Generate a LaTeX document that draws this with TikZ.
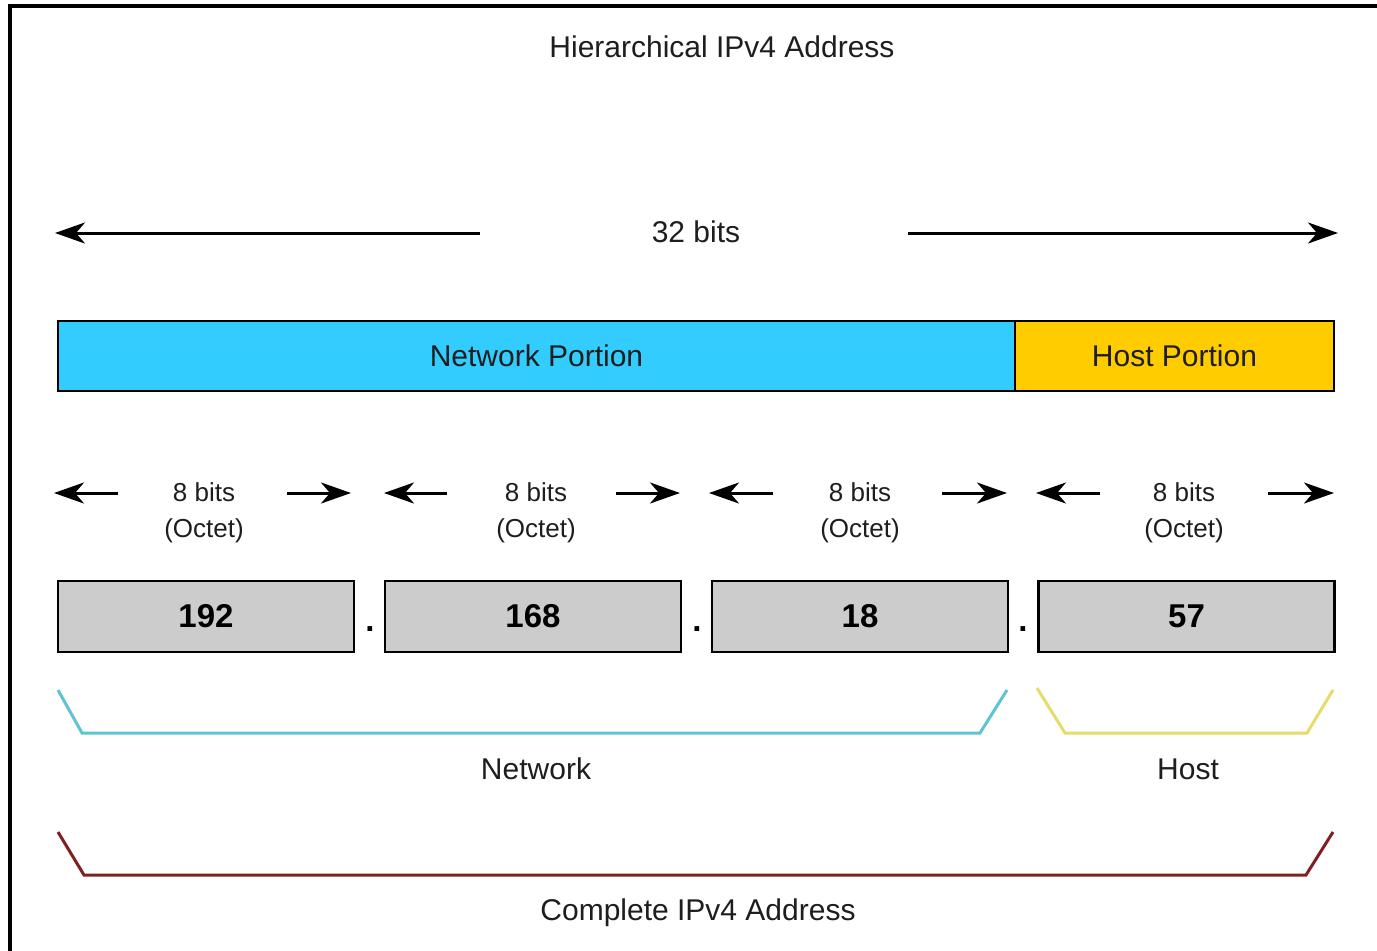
\documentclass[tikz,border=0pt]{standalone}
\usepackage{fontspec}
\setmainfont{Liberation Sans}
\usetikzlibrary{arrows.meta}
\definecolor{netblue}{HTML}{33CCFF}
\definecolor{hostyel}{HTML}{FFCC00}
\definecolor{octgray}{HTML}{CCCCCC}
\definecolor{netbr}{HTML}{5EC4D4}
\definecolor{hostbr}{HTML}{E6DC6A}
\definecolor{fullbr}{HTML}{7E2020}
\definecolor{txtc}{HTML}{1E1E1E}
\tikzset{
  txt/.style={text=txtc, inner sep=0pt, font=\fontsize{30}{36}\selectfont},
  small/.style={text=txtc, inner sep=0pt, font=\fontsize{26}{31}\selectfont},
  portion/.style={draw=black, line width=2.5pt, inner sep=0pt, minimum height=70pt, text=txtc, font=\fontsize{30}{36}\selectfont},
  octbox/.style={draw=black, line width=2.5pt, fill=octgray, inner sep=0pt, minimum width=296pt, minimum height=71pt, text=black, font=\fontsize{33}{40}\selectfont\bfseries},
  arr/.style={line width=3pt, -{Stealth[length=30pt,width=21pt,inset=9pt]}},
  brk/.style={line width=3pt, line join=miter}
}
\begin{document}
\begin{tikzpicture}[x=1pt,y=-1pt]
\useasboundingbox (0,0) rectangle (1377,951);
\fill[white] (0,0) rectangle (1377,951);
% frame
\draw[line width=3.5pt] (10,951) -- (10,6) -- (1377,6);

% title
\node[txt] (title) at (722,47) {Hierarchical IPv4 Address};

% 32 bits
\node[txt] (bits32) at (696,232) {32 bits};
\coordinate (l32a) at (480,233);
\coordinate (l32b) at (55,233);
\coordinate (r32a) at (908,233);
\coordinate (r32b) at (1338,233);
\draw[arr] (l32a) -- (l32b);
\draw[arr] (r32a) -- (r32b);

% portions
\node[portion, fill=netblue, minimum width=957pt] (net) at (536.5,356) {Network Portion};
\node[portion, fill=hostyel, minimum width=319pt] (host) at (1174.5,356) {Host Portion};

% octet labels and arrows
\foreach \i/\c/\la/\lb/\ra/\rb in {1/204/118/54/287/351, 2/536/447/384/616/680, 3/860/773/709/942/1007, 4/1184/1100/1036/1268/1334}{
  \node[small] (b\i) at (\c,492) {8 bits};
  \node[small] (o\i) at (\c,531) {(Octet)};
  \coordinate (la\i) at (\la,493);
  \coordinate (lb\i) at (\lb,493);
  \coordinate (ra\i) at (\ra,493);
  \coordinate (rb\i) at (\rb,493);
  \draw[arr] (la\i) -- (lb\i);
  \draw[arr] (ra\i) -- (rb\i);
}

% octet boxes
\node[octbox] (oct1) at (206,616.5) {192};
\node[octbox] (oct2) at (533,616.5) {168};
\node[octbox] (oct3) at (860,616.5) {18};
\node[octbox] (oct4) at (1186.5,616.5) {57};

% dots
\node[anchor=base, inner sep=0pt, font=\fontsize{33}{40}\selectfont\bfseries] (d1) at (370,631) {.};
\node[anchor=base, inner sep=0pt, font=\fontsize{33}{40}\selectfont\bfseries] (d2) at (697,631) {.};
\node[anchor=base, inner sep=0pt, font=\fontsize{33}{40}\selectfont\bfseries] (d3) at (1023,631) {.};

% brackets
\draw[brk, netbr] (58,690) -- (82,733) -- (980,733) -- (1007,690);
\node[txt] (netlbl) at (536,769) {Network};
\draw[brk, hostbr] (1037,688) -- (1065,733) -- (1307,733) -- (1333,690);
\node[txt] (hostlbl) at (1188,769) {Host};
\draw[brk, fullbr] (58,832) -- (84,875) -- (1306,875) -- (1333,832);
\node[txt] (fulllbl) at (698,913) {Complete IPv4 Address};
\end{tikzpicture}
\end{document}
